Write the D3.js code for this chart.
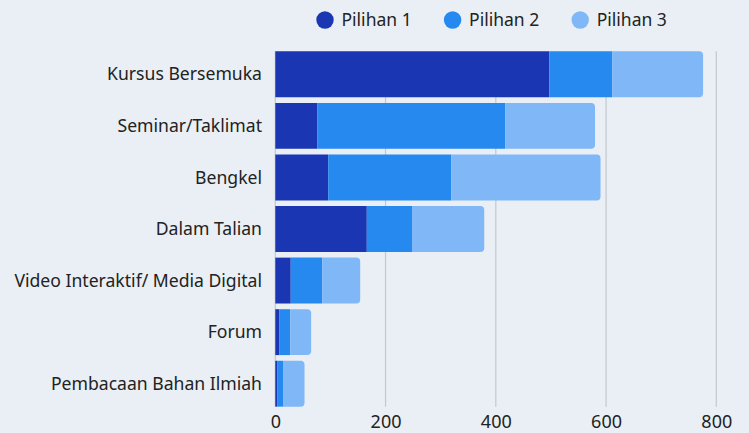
<!DOCTYPE html>
<html lang="en">
<head>
  <meta charset="UTF-8">
  <title>Pilihan</title>
  <style>
body { margin: 0; background: #e9eff4; }
svg { display: block; font-family: "Noto Sans", sans-serif; }
  </style>
</head>
<body>
<div id="wrapper"></div>
<script src="https://cdnjs.cloudflare.com/ajax/libs/d3/7.8.5/d3.min.js"></script>
<script>

// data
const categories = ["Kursus Bersemuka", "Seminar/Taklimat", "Bengkel", "Dalam Talian",
  "Video Interaktif/ Media Digital", "Forum", "Pembacaan Bahan Ilmiah"]
const seriesNames = ["Pilihan 1", "Pilihan 2", "Pilihan 3"]
const pilihan1 = [497, 76, 96, 166, 28, 7, 4]
const pilihan2 = [114, 341, 223, 82, 57, 20, 10]
const pilihan3 = [165, 163, 271, 131, 69, 38, 39]
const xTicks = [0, 200, 400, 600, 800]
const colors = ["#1a36b3", "#2589ef", "#80b8f7"]

const width = 749, height = 433
const margin = { top: 48.5, right: 33, bottom: 23.5, left: 275.3 }

const table = categories.map((c, i) => ({
  cat: c, "Pilihan 1": pilihan1[i], "Pilihan 2": pilihan2[i], "Pilihan 3": pilihan3[i]
}))
const stacked = d3.stack().keys(seriesNames)(table)

const svg = d3.select("#wrapper").append("svg")
  .attr("width", width)
  .attr("height", height)

const xScale = d3.scaleLinear()
  .domain([0, 800])
  .range([margin.left, 716.3])

const yScale = d3.scaleBand()
  .domain(categories)
  .range([margin.top, height - margin.bottom])
  .paddingInner(0.11)
  .paddingOuter(0.055)

const gridTop = yScale(categories[0])
const gridBottom = yScale(categories[categories.length - 1]) + yScale.bandwidth()

// grid
svg.append("g")
  .selectAll("line")
  .data(xTicks)
  .join("line")
  .attr("x1", d => xScale(d))
  .attr("x2", d => xScale(d))
  .attr("y1", gridTop)
  .attr("y2", gridBottom)
  .attr("stroke", "#c3c8cd")
  .attr("stroke-width", 1.2)

// bars, last segment gets rounded right end
const r = 4
function barPath(x0, x1, y, h, round) {
  const w = x1 - x0
  if (!round || w < 2 * r) return `M${x0},${y}h${w}v${h}h${-w}Z`
  return `M${x0},${y}h${w - r}a${r},${r} 0 0 1 ${r},${r}v${h - 2 * r}` +
    `a${r},${r} 0 0 1 ${-r},${r}h${-(w - r)}Z`
}

stacked.forEach((layer, li) => {
  svg.append("g")
    .attr("fill", colors[li])
    .selectAll("path")
    .data(layer)
    .join("path")
    .attr("d", d => barPath(xScale(d[0]), xScale(d[1]), yScale(d.data.cat),
      yScale.bandwidth(), li === seriesNames.length - 1))
})

// y labels
svg.append("g")
  .selectAll("text")
  .data(categories)
  .join("text")
  .attr("x", 262)
  .attr("y", d => yScale(d) + yScale.bandwidth() / 2)
  .attr("dy", "0.35em")
  .attr("text-anchor", "end")
  .attr("font-size", 17.6)
  .attr("fill", "#222")
  .text(d => d)

// x axis
const xAxis = svg.append("g")
  .attr("transform", `translate(0,${gridBottom})`)
  .call(d3.axisBottom(xScale).tickValues(xTicks).tickSize(0).tickPadding(9))
xAxis.select(".domain").remove()
xAxis.selectAll("text")
  .attr("font-size", 18)
  .attr("font-family", "Noto Sans, sans-serif")
  .attr("fill", "#222")

// legend
const legend = svg.append("g")
  .selectAll("g")
  .data(seriesNames)
  .join("g")
  .attr("transform", (d, i) => `translate(${325 + i * 127.6},20)`)
legend.append("circle")
  .attr("r", 8.7)
  .attr("fill", (d, i) => colors[i])
legend.append("text")
  .attr("x", 16.5)
  .attr("dy", "0.35em")
  .attr("font-size", 17.5)
  .attr("fill", "#222")
  .text(d => d)

</script>
</body>
</html>
